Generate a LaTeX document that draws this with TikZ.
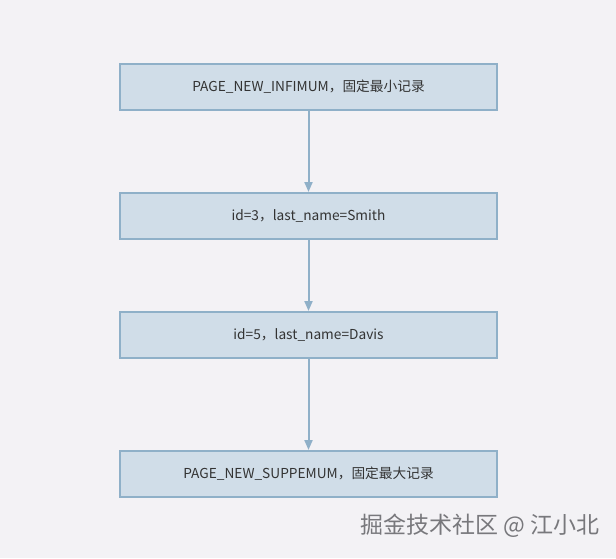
\documentclass[tikz,border=0pt]{standalone}
\usepackage{fontspec}
\setmainfont{Noto Sans CJK SC}
\usetikzlibrary{
  arrows.meta,
  positioning
}
\definecolor{pagebg}{RGB}{243,242,245}
\definecolor{recfill}{RGB}{208,221,232}
\definecolor{recline}{RGB}{143,176,200}
\definecolor{marktext}{RGB}{120,120,124}
\tikzset{
  link/.style={-{Triangle[length=10pt,width=8pt]},line width=2pt,draw=recline},
  record/.style={
    draw=recline,
    fill=recfill,
    line width=2pt,
    minimum width=377pt,
    minimum height=46pt,
    inner sep=0pt,
    font=\fontsize{13.7}{16}\selectfont,
    text=black!80
  },
  watermark/.style={font=\fontsize{23}{26}\selectfont,text=marktext,anchor=east}
}
\newcommand{\recnode}[3]{%
  \node[record] (#1) at (#2) {#3};%
}

\begin{document}
\begin{tikzpicture}[x=1pt,y=-1pt]
  % Page background fixes the size.
  \fill[pagebg] (0,0) rectangle (616,558);
  \useasboundingbox (0,0) rectangle (616,558);

  % Records of the page, from smallest to largest.
  \recnode{inf}{308.5,87}{PAGE\_NEW\_INFIMUM，固定最小记录}
  \recnode{smith}{308.5,216}{id=3，last\_name=Smith}
  \recnode{davis}{308.5,335}{id=5，last\_name=Davis}
  \recnode{sup}{308.5,474}{PAGE\_NEW\_SUPPEMUM，固定最大记录}

  % Next-record pointers.
  \draw[link] (inf) -- (smith);
  \draw[link] (smith) -- (davis);
  \draw[link] (davis) -- (sup);

  % Source mark.
  \node[watermark] (mark) at (603,526) {掘金技术社区 @ 江小北};
\end{tikzpicture}
\end{document}
